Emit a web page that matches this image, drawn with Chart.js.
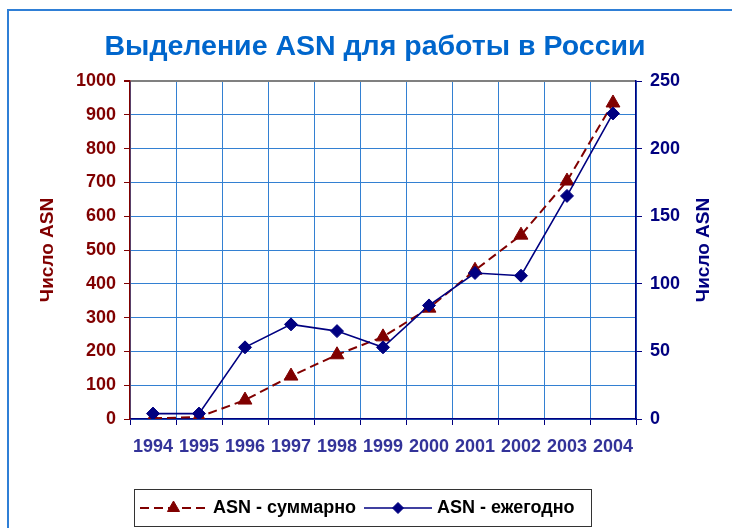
<!DOCTYPE html>
<html>
<head>
<meta charset="utf-8">
<script src="https://cdn.jsdelivr.net/npm/chart.js@4.4.0/dist/chart.umd.min.js"></script>
<style>
html, body { margin: 0; padding: 0; background: #fff; }
#wrap { position: relative; width: 732px; height: 528px; overflow: hidden; }
#frame { position: absolute; left: 7px; top: 9px; width: 900px; height: 900px; border: 2px solid #2f7fd6; }
canvas { position: absolute; left: 0; top: 0; }
</style>
</head>
<body>
<div id="wrap"><div id="frame"></div><canvas id="chart" width="732" height="528"></canvas></div>
<script>
const years = ['1994', '1995', '1996', '1997', '1998', '1999', '2000', '2001', '2002', '2003', '2004'];
const totalAsn = [2, 6, 56, 127, 190, 243, 328, 440, 544, 704, 935];
const yearlyAsn = [4, 4, 53, 70, 65, 53, 84, 108, 106, 165, 226];
const titleText = 'Выделение ASN для работы в России';
const axisTitle = 'Число ASN';

const red = '#800000';
const navy = '#000080';
const gridBlue = '#3380d2';
const FONT = 'Liberation Sans, Arial, sans-serif';
Chart.defaults.font.family = FONT;

// title, axis titles and excel-like legend box
const decor = {
    id: 'decor',
    afterDraw(chart) {
        const c = chart.ctx;
        const area = chart.chartArea;
        const midY = (area.top + area.bottom) / 2;
        c.save();
        c.fillStyle = '#0066cc';
        c.font = 'bold 28.5px ' + FONT;
        c.textAlign = 'center';
        c.textBaseline = 'middle';
        c.fillText(titleText, 375, 47);

        c.font = 'bold 19px ' + FONT;
        [[48, red], [704, navy]].forEach(([x, col]) => {
            c.save();
            c.translate(x, midY);
            c.rotate(-Math.PI / 2);
            c.fillStyle = col;
            c.fillText(axisTitle, 0, 0);
            c.restore();
        });

        // legend
        c.strokeStyle = '#333';
        c.lineWidth = 1;
        c.strokeRect(134.5, 489.5, 457, 37);
        const ly = 508;
        const items = [
            { ds: chart.data.datasets[0], x0: 140, x1: 207, tx: 213 },
            { ds: chart.data.datasets[1], x0: 364, x1: 432, tx: 437 }
        ];
        items.forEach(it => {
            c.save();
            c.strokeStyle = it.ds.borderColor;
            c.fillStyle = it.ds.borderColor;
            c.lineWidth = it.ds.borderWidth;
            c.setLineDash(it.ds.borderDash || []);
            c.beginPath();
            c.moveTo(it.x0, ly);
            c.lineTo(it.x1, ly);
            c.stroke();
            c.setLineDash([]);
            c.lineWidth = 1;
            Chart.helpers.drawPoint(c, {
                pointStyle: it.ds.pointStyle, radius: it.ds.pointRadius - 1,
                borderWidth: 1, rotation: 0
            }, (it.x0 + it.x1) / 2, ly);
            c.restore();
            c.fillStyle = '#000';
            c.textAlign = 'left';
            c.font = 'bold 18px ' + FONT;
            c.fillText(it.ds.label, it.tx, ly);
        });
        c.restore();
    }
};

const tickFont = { size: 18, weight: 'bold' };

new Chart(document.getElementById('chart'), {
    type: 'line',
    data: {
        labels: years,
        datasets: [
            {
                label: 'ASN - суммарно',
                data: totalAsn,
                yAxisID: 'y',
                borderColor: red,
                backgroundColor: red,
                borderWidth: 2,
                borderDash: [9, 5],
                pointStyle: 'triangle',
                pointRadius: 8,
                pointBorderWidth: 1,
                pointBorderColor: red,
                pointBackgroundColor: red,
                order: 2
            },
            {
                label: 'ASN - ежегодно',
                data: yearlyAsn,
                yAxisID: 'y1',
                borderColor: navy,
                backgroundColor: navy,
                borderWidth: 1.6,
                pointStyle: 'rectRot',
                pointRadius: 6.5,
                pointBorderWidth: 1,
                pointBorderColor: navy,
                pointBackgroundColor: navy,
                order: 1
            }
        ]
    },
    options: {
        responsive: false,
        animation: false,
        layout: { padding: { top: 81, left: 0, right: 0, bottom: 0 } },
        plugins: {
            legend: { display: false },
            title: { display: false },
            tooltip: { enabled: false }
        },
        scales: {
            x: {
                offset: true,
                grid: { offset: true, color: gridBlue, tickColor: navy, tickLength: 6 },
                border: { color: navy, width: 1.5 },
                ticks: { color: '#333399', font: tickFont, padding: 11, maxRotation: 0, autoSkip: false },
                afterFit(s) { s.height = 109; }
            },
            y: {
                position: 'left',
                min: 0,
                max: 1000,
                ticks: { stepSize: 100, color: red, font: tickFont, padding: 8, callback: v => String(v) },
                grid: {
                    color: ctx => ctx.tick && ctx.tick.value === 1000 ? '#808080' : gridBlue,
                    lineWidth: ctx => ctx.tick && ctx.tick.value === 1000 ? 2 : 1,
                    tickColor: red,
                    tickLength: 6
                },
                border: { color: red, width: 1.5 },
                afterFit(s) { s.width = 130; }
            },
            y1: {
                position: 'right',
                min: 0,
                max: 250,
                ticks: { stepSize: 50, color: navy, font: tickFont, padding: 8, callback: v => String(v) },
                grid: { drawOnChartArea: false, tickColor: navy, tickLength: 6 },
                border: { color: navy, width: 1.5 },
                afterFit(s) { s.width = 96; }
            }
        }
    },
    plugins: [decor]
});
</script>
</body>
</html>
